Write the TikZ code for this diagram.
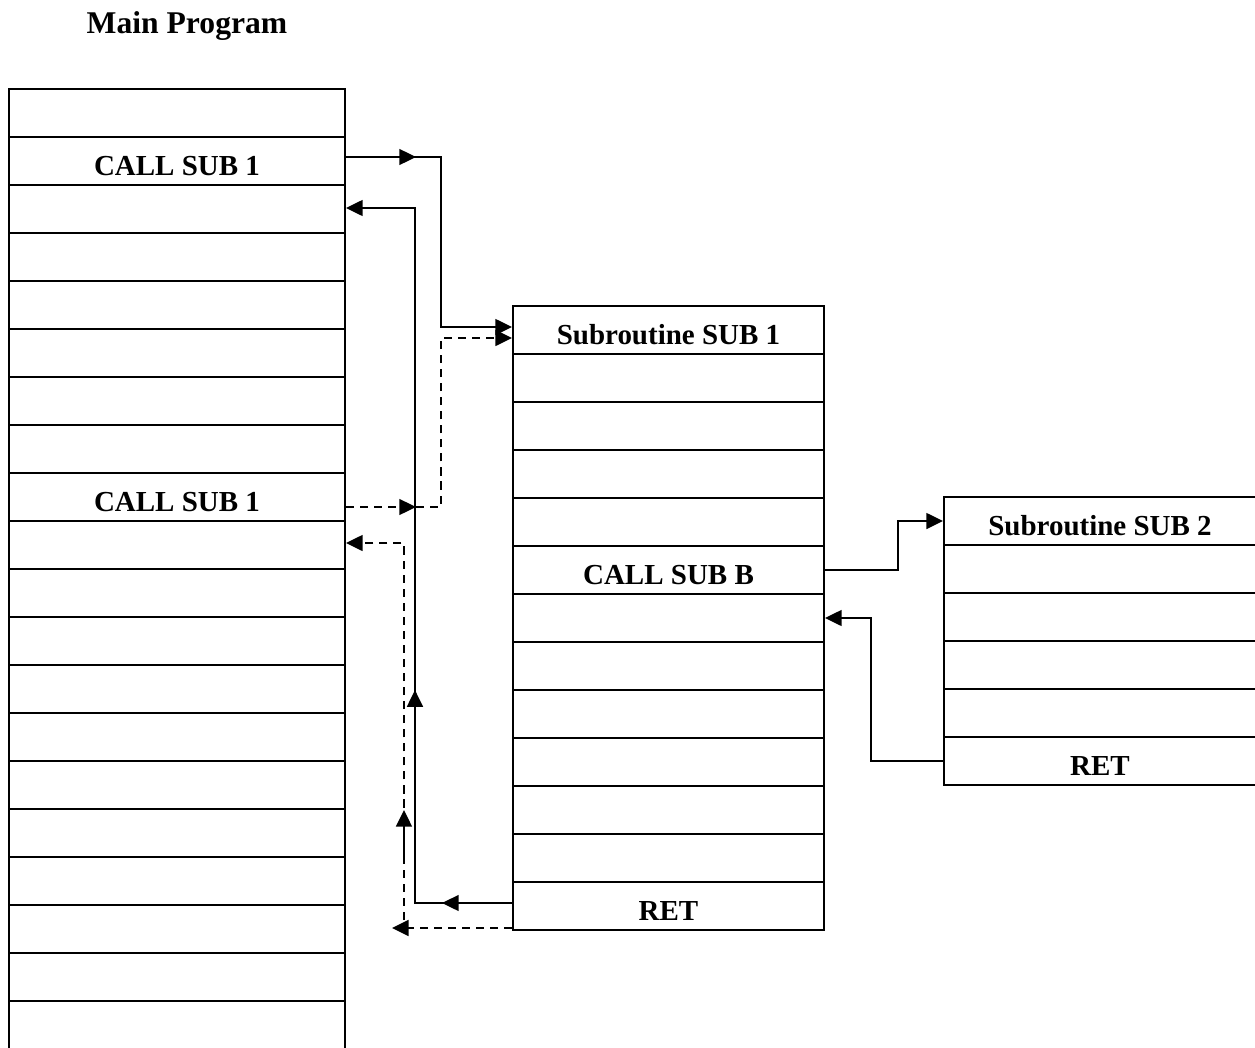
\documentclass[tikz,border=0pt]{standalone}
\usepackage{fontspec}
\setmainfont{Liberation Serif}
\usetikzlibrary{arrows.meta,calc}
\usetikzlibrary{decorations,decorations.markings}
\tikzstyle{cell}=[draw, line width=1.2pt, rectangle, inner sep=0pt, minimum height=0.96cm]
\tikzstyle{lbl}=[font=\fontsize{16.5}{20}\selectfont\bfseries, yshift=-0.1cm]
\tikzstyle{heading}=[font=\fontsize{18}{21}\selectfont\bfseries]
\tikzstyle{link}=[line width=1.3pt]
\tikzstyle{dlink}=[line width=1.3pt, dash pattern=on 4.6pt off 3.4pt]
\tikzset{>={Triangle[length=9.5pt,width=9pt]}}
\tikzset{midarr/.style={postaction={decorate,decoration={markings,mark=at position #1 with {\arrow{>}}}}}}
\newcommand{\progStack}[5]{
	\foreach \i in {1,...,#5}
		\node[cell, minimum width=#4] (#1\i) at (#2,{#3+48*\i-24}) {};
}

\begin{document}
\begin{tikzpicture}[x=0.02cm,y=-0.02cm]
	\useasboundingbox (0,0) rectangle (1255,1048);
	\clip (0,0) rectangle (1255,1048);
	\node[heading] (title) at (187,26) {Main Program};
	\progStack{main}{177}{89}{6.72cm}{20}
	\progStack{suba}{668.5}{306}{6.22cm}{13}
	\progStack{subb}{1100}{497}{6.24cm}{6}
	\node[lbl] (calla) at (main2) {CALL SUB 1};
	\node[lbl] (callb) at (main9) {CALL SUB 1};
	\node[lbl] (heada) at (suba1) {Subroutine SUB 1};
	\node[lbl] (callc) at (suba6) {CALL SUB B};
	\node[lbl] (reta) at (suba13) {RET};
	\node[lbl] (headb) at (subb1) {Subroutine SUB 2};
	\node[lbl] (retb) at (subb6) {RET};
	\draw[link,midarr=39.8pt,->] ($(main2.east)+(0,-4)$) -- +(95,0) |- ($(suba1.west)+(0,-3)$);
	\draw[dlink,midarr=39.8pt,->] ($(main9.east)+(0,10)$) -- +(95,0) |- ($(suba1.west)+(0,8)$);
	\draw[link,midarr=39.8pt,midarr=176.4pt,->] ($(suba13.west)+(0,-3)$) -- +(-97,0) |- ($(main3.east)+(0,-1)$);
	\draw[dlink,->] ($(suba13.west)+(0,22)$) -- +(-120,0);
	\coordinate (rb) at ($(suba13.west)+(-108,14)$);
	\draw[dlink,->] (rb) |- ($(main10.east)+(0,-2)$);
	\draw[link,->] ($(rb)+(0,-58)$) -- +(0,-52);
	\draw[link,->] (suba6.east) -- +(73,0) |- (subb1.west);
	\draw[link,->] (subb6.west) -- +(-72,0) |- (suba7.east);
\end{tikzpicture}
\end{document}
